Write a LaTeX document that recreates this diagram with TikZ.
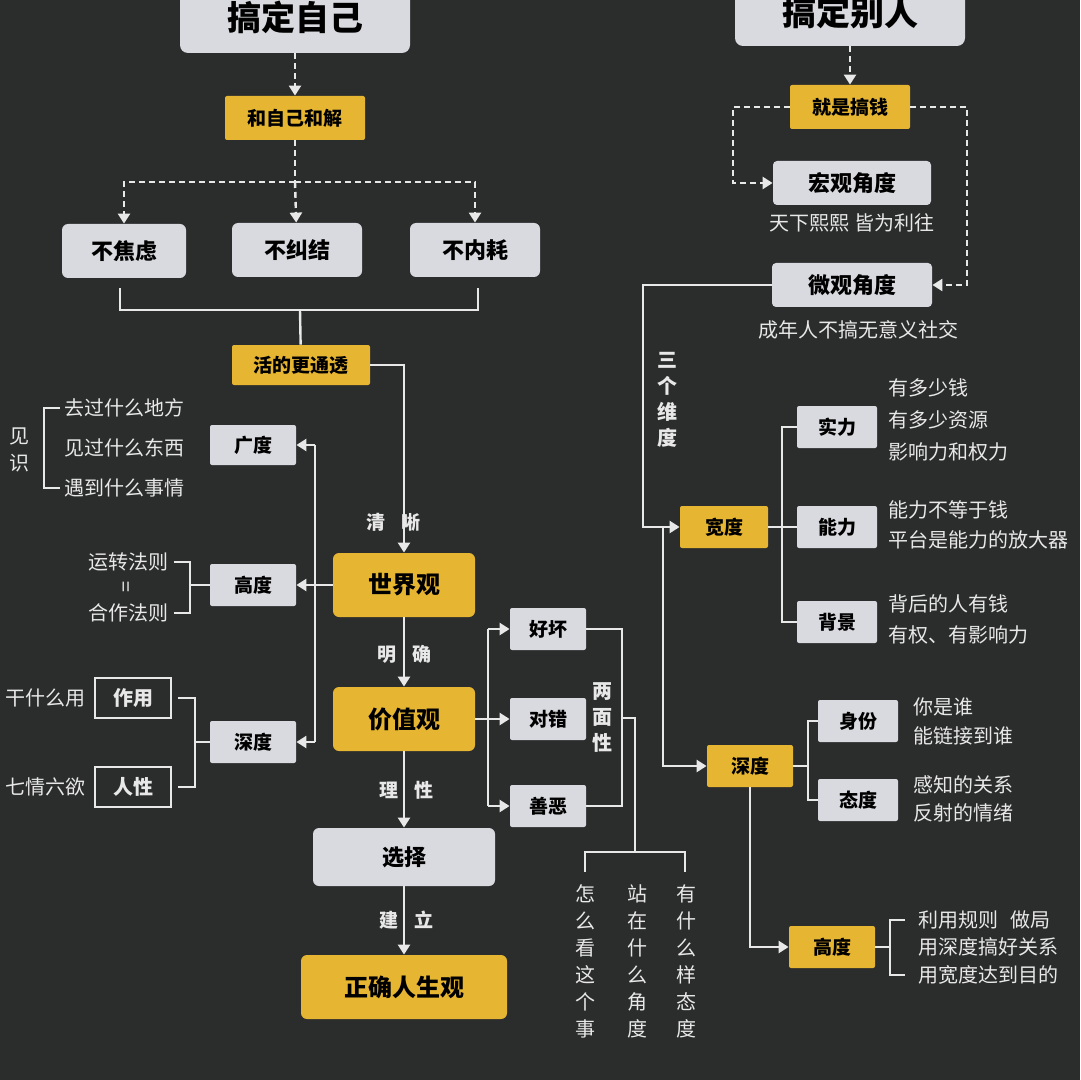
\documentclass[tikz,border=0pt]{standalone}
\usepackage{fontspec}
\setmainfont{Noto Sans CJK SC}
\usetikzlibrary{arrows.meta}
\definecolor{bg}{HTML}{2B2C2C}
\definecolor{lb}{HTML}{D9DADF}
\definecolor{yb}{HTML}{E6B532}
\definecolor{ln}{HTML}{E8E8E8}
\begin{document}
\begin{tikzpicture}[x=0.5pt,y=-0.5pt,
  lbox/.style={fill=lb,text=black,font=\bfseries\fontsize{11}{12}\selectfont,inner sep=0pt,rounded corners=1pt},
  ybox/.style={fill=yb,text=black,font=\bfseries\fontsize{9.5}{11}\selectfont,inner sep=0pt,rounded corners=1pt},
  obox/.style={draw=ln,line width=1pt,text=ln,font=\bfseries\fontsize{10}{12}\selectfont,inner sep=0pt},
  txt/.style={text=ln,font=\fontsize{10}{12}\selectfont,inner sep=0pt},
  ltxt/.style={txt,anchor=west},
  vtxt/.style={txt,align=center,font=\fontsize{10}{13.5}\selectfont},
  lab/.style={txt,font=\bfseries\fontsize{9.5}{12}\selectfont},
  con/.style={draw=ln,line width=1.2pt},
  arr/.style={con,-{Triangle[width=6pt,length=5pt]}},
  dsh/.style={con,dash pattern=on 3pt off 2pt},
  darr/.style={dsh,-{Triangle[width=6pt,length=5pt]}}]
\fill[bg] (0,0) rectangle (1080,1080);
\useasboundingbox (0,0) rectangle (1080,1080);
% ===== left =====
\node[lbox,minimum width=115pt,minimum height=36pt,font=\bfseries\fontsize{17}{18}\selectfont,rounded corners=4pt] (zj) at (295,17) {搞定自己};
\node[ybox,minimum width=70pt,minimum height=22pt] (hj) at (295,118) {和自己和解};
\draw[darr] (zj) -- (hj);
\node[lbox,minimum width=62pt,minimum height=27pt,rounded corners=3pt] (b1) at (124,251) {不焦虑};
\node[lbox,minimum width=65pt,minimum height=27pt,rounded corners=3pt] (b2) at (297,250) {不纠结};
\node[lbox,minimum width=65pt,minimum height=27pt,rounded corners=3pt] (b3) at (475,250) {不内耗};
\coordinate (hjl) at (124,182); \coordinate (hjm) at (295,182); \coordinate (hjr) at (475,182);
\draw[dsh] (hj) -- (hjm);
\draw[darr] (hjm) -- (hjl) -- (b1);
\draw[darr] (hjm) -- (b2);
\draw[darr] (hjm) -- (hjr) -- (b3);
\node[ybox,minimum width=69pt,minimum height=20pt] (ht) at (301,365) {活的更通透};
\coordinate (br1) at (120,288); \coordinate (br2) at (478,288); \coordinate (brm) at (300,310);
\draw[con] (br1) |- (brm) -| (br2);
\draw[con] (brm) -- (ht);
\node[ybox,minimum width=71pt,minimum height=32pt,rounded corners=3pt,font=\bfseries\fontsize{12}{13}\selectfont] (sj) at (404,585) {世界观};
\node[ybox,minimum width=71pt,minimum height=32pt,rounded corners=3pt,font=\bfseries\fontsize{12}{13}\selectfont] (jz) at (404,719) {价值观};
\node[lbox,minimum width=91pt,minimum height=29pt,rounded corners=3pt] (xz) at (404,857) {选择};
\node[ybox,minimum width=103pt,minimum height=32pt,rounded corners=3pt,font=\bfseries\fontsize{12}{13}\selectfont] (zq) at (404,987) {正确人生观};
\coordinate (htc) at (404,365);
\draw[arr] (ht.east) -- (htc) -- (sj.north);
\draw[arr] (sj) -- (jz);
\draw[arr] (jz) -- (xz);
\draw[arr] (xz) -- (zq);
\node[lab] at (393,522) {清\hspace{8pt}晰};
\node[lab] at (404,654) {明\hspace{8pt}确};
\node[lab] at (406,790) {理\hspace{8pt}性};
\node[lab] at (406,920) {建\hspace{8pt}立};
% left branch
\node[lbox,minimum width=43pt,minimum height=20pt,font=\bfseries\fontsize{9.5}{11}\selectfont] (gd) at (253,445) {广度};
\node[lbox,minimum width=43pt,minimum height=21pt,font=\bfseries\fontsize{9.5}{11}\selectfont] (gd2) at (253,585) {高度};
\node[lbox,minimum width=43pt,minimum height=21pt,font=\bfseries\fontsize{9.5}{11}\selectfont] (sd) at (253,742) {深度};
\coordinate (lt) at (315,445); \coordinate (lb2) at (315,742);
\draw[con] (lt) -- (lb2);
\draw[arr] (sj.west) -- (gd2.east);
\draw[arr] (lt) -- (gd.east);
\draw[arr] (lb2) -- (sd.east);
\node[ltxt] (t1) at (64,408) {去过什么地方};
\node[ltxt] (t2) at (64,448) {见过什么东西};
\node[ltxt] (t3) at (64,488) {遇到什么事情};
\draw[con] ([xshift=-2]t1.west) -| (44,488) -- ([xshift=-2]t3.west);
\node[vtxt] at (20,450) {见\\识};
\node[txt] (y1) at (128,562) {运转法则};
\node[txt] at (128,587) {\rotatebox{90}{=}};
\node[txt] (y2) at (128,613) {合作法则};
\draw[con] (174,562) -| (190,613) -- (174,613);
\draw[con] (190,585) -- (gd2.west);
\node[obox,minimum width=38pt,minimum height=20pt] (zy) at (133,698) {作用};
\node[obox,minimum width=38pt,minimum height=20pt] (rx) at (133,787) {人性};
\node[txt,anchor=east] at (86,698) {干什么用};
\node[txt,anchor=east] at (86,787) {七情六欲};
\draw[con] (178,698) -| (195,787) -- (178,787);
\draw[con] (195,742) -- (sd.west);
% right of 价值观
\node[lbox,minimum width=38pt,minimum height=21pt,font=\bfseries\fontsize{9.5}{11}\selectfont] (hh) at (548,629) {好坏};
\node[lbox,minimum width=38pt,minimum height=21pt,font=\bfseries\fontsize{9.5}{11}\selectfont] (dc) at (548,719) {对错};
\node[lbox,minimum width=38pt,minimum height=21pt,font=\bfseries\fontsize{9.5}{11}\selectfont] (se) at (548,806) {善恶};
\coordinate (vt) at (488,629); \coordinate (vb) at (488,806);
\draw[con] (vt) -- (vb);
\draw[arr] (jz.east) -- (dc.west);
\draw[arr] (vt) -- (hh.west);
\draw[arr] (vb) -- (se.west);
\draw[con] (hh.east) -| (622,806) -- (se.east);
\node[vtxt,font=\bfseries\fontsize{10}{13}\selectfont] at (602,718) {两\\面\\性};
\coordinate (m2) at (635,852);
\draw[con] (622,718) -| (m2);
\draw[con] (585,872) |- (685,852) -- (685,872);
\node[vtxt,anchor=north] at (585,884) {怎\\么\\看\\这\\个\\事};
\node[vtxt,anchor=north] at (637,884) {站\\在\\什\\么\\角\\度};
\node[vtxt,anchor=north] at (686,884) {有\\什\\么\\样\\态\\度};
% ===== right =====
\node[lbox,minimum width=115pt,minimum height=34pt,font=\bfseries\fontsize{17}{18}\selectfont,rounded corners=4pt] (br) at (850,12) {搞定别人};
\node[ybox,minimum width=60pt,minimum height=22pt] (gq) at (850,107) {就是搞钱};
\draw[darr] (br) -- (gq);
\node[lbox,minimum width=79pt,minimum height=22pt,rounded corners=2pt] (hg) at (852,183) {宏观角度};
\node[lbox,minimum width=80pt,minimum height=22pt,rounded corners=2pt] (wg) at (852,285) {微观角度};
\draw[darr] (gq.west) -| (733,183) -- (hg.west);
\draw[darr] (gq.east) -| (967,285) -- (wg.east);
\node[txt] at (852,223) {天下熙熙 皆为利往};
\node[txt] at (858,330) {成年人不搞无意义社交};
\node[ybox,minimum width=44pt,minimum height=21pt,font=\bfseries\fontsize{9.5}{11}\selectfont] (kd) at (724,527) {宽度};
\node[ybox,minimum width=43pt,minimum height=21pt,font=\bfseries\fontsize{9.5}{11}\selectfont] (sd2) at (750,766) {深度};
\node[ybox,minimum width=43pt,minimum height=21pt,font=\bfseries\fontsize{9.5}{11}\selectfont] (gd3) at (832,947) {高度};
\coordinate (c1) at (643,285); \coordinate (c2) at (663,527);
\draw[arr] (wg.west) -- (c1) |- (kd.west);
\draw[arr] (c2) |- (sd2.west);
\draw[arr] (sd2.south) |- (gd3.west);
\node[vtxt,font=\bfseries\fontsize{10}{13}\selectfont] at (667,400) {三\\个\\维\\度};
\node[lbox,minimum width=40pt,minimum height=21pt,font=\bfseries\fontsize{9.5}{11}\selectfont] (sl) at (837,427) {实力};
\node[lbox,minimum width=40pt,minimum height=21pt,font=\bfseries\fontsize{9.5}{11}\selectfont] (nl) at (837,527) {能力};
\node[lbox,minimum width=40pt,minimum height=21pt,font=\bfseries\fontsize{9.5}{11}\selectfont] (bj) at (837,622) {背景};
\draw[con] (sl.west) -| (782,622) -- (bj.west);
\draw[con] (kd.east) -- (nl.west);
\node[ltxt] at (888,388) {有多少钱};
\node[ltxt] at (888,420) {有多少资源};
\node[ltxt] at (888,452) {影响力和权力};
\node[ltxt] at (888,510) {能力不等于钱};
\node[ltxt] at (888,540) {平台是能力的放大器};
\node[ltxt] at (888,604) {背后的人有钱};
\node[ltxt] at (888,635) {有权、有影响力};
\node[lbox,minimum width=40pt,minimum height=21pt,font=\bfseries\fontsize{9.5}{11}\selectfont] (sf) at (858,721) {身份};
\node[lbox,minimum width=40pt,minimum height=21pt,font=\bfseries\fontsize{9.5}{11}\selectfont] (td) at (858,800) {态度};
\draw[con] (sf.west) -| (808,800) -- (td.west);
\draw[con] (sd2.east) -- (808,766);
\node[ltxt] at (913,707) {你是谁};
\node[ltxt] at (913,736) {能链接到谁};
\node[ltxt] at (913,785) {感知的关系};
\node[ltxt] at (913,813) {反射的情绪};
\draw[con] (905,920) -- (890,920) -- (890,975) -- (905,975);
\draw[con] (gd3.east) -- (890,947);
\node[ltxt] at (918,920) {利用规则\hspace{6pt}做局};
\node[ltxt] at (918,947) {用深度搞好关系};
\node[ltxt] at (918,975) {用宽度达到目的};
\end{tikzpicture}
\end{document}
